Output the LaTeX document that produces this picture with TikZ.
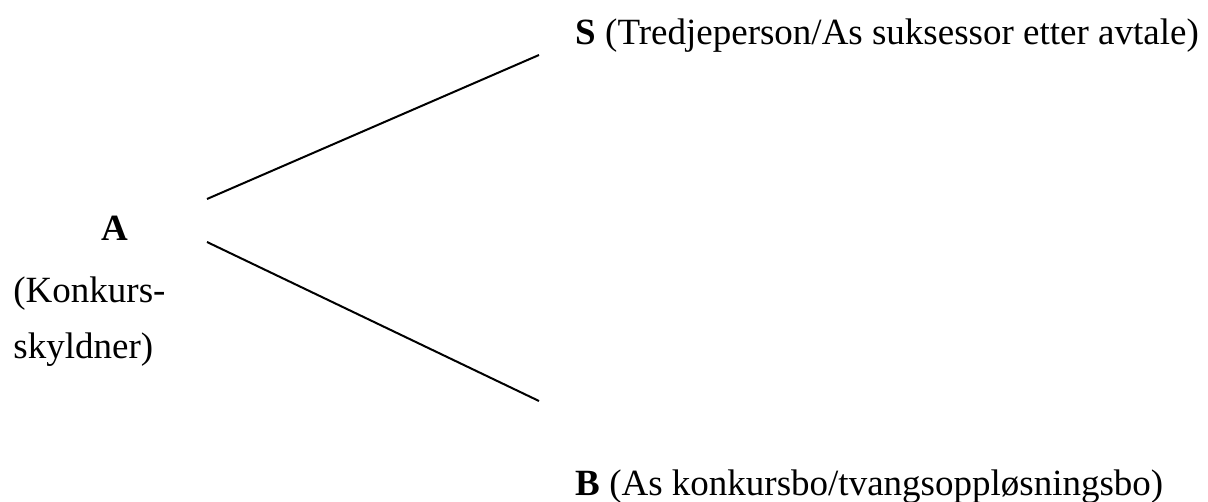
\documentclass[tikz,border=0pt]{standalone}
\usepackage{fontspec}
\setmainfont{Liberation Serif}
\tikzset{
  lbl/.style={anchor=base west, inner sep=0pt, font=\fontsize{18.5}{22}\selectfont},
  edge/.style={line width=1pt}
}
\begin{document}
\begin{tikzpicture}[x=0.5pt,y=-0.5pt]
\useasboundingbox (0,0) rectangle (1208,502);
\node[lbl] (S) at (575,45) {\textbf{S} (Tredjeperson/As suksessor etter avtale)};
\node[lbl,anchor=base] (A) at (115,240) {\textbf{A}};
\node[lbl] (K1) at (13,302) {(Konkurs-};
\node[lbl] (K2) at (13,358) {skyldner)};
\node[lbl] (B) at (575,495) {\textbf{B} (As konkursbo/tvangsoppløsningsbo)};
\coordinate (u1) at (207,199);
\coordinate (u2) at (539,55);
\coordinate (l1) at (207,242);
\coordinate (l2) at (539,401);
\draw[edge] (u1) -- (u2);
\draw[edge] (l1) -- (l2);
\end{tikzpicture}
\end{document}
